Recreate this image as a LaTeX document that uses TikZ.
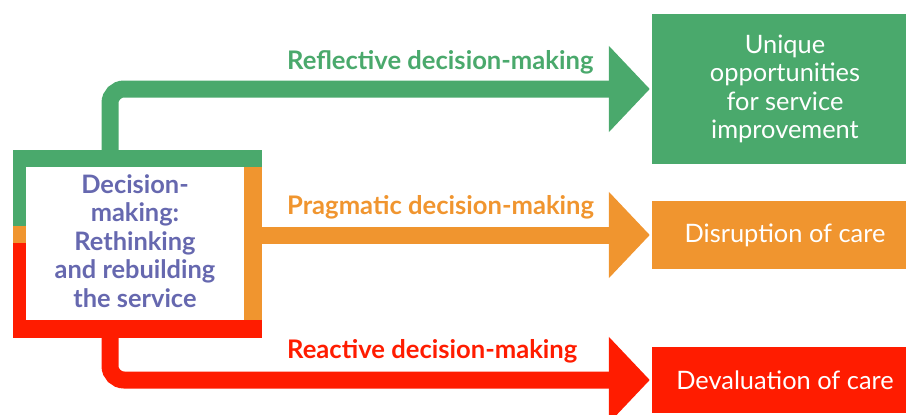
\documentclass[tikz,border=0pt]{standalone}
\usepackage{fontspec}
\setmainfont{Lato}
\usetikzlibrary{arrows.meta}
\definecolor{cgreen}{HTML}{4AA96C}
\definecolor{corange}{HTML}{F0952F}
\definecolor{cred}{HTML}{FF1C00}
\definecolor{cpurple}{HTML}{6668AF}
\begin{document}
\begin{tikzpicture}[x=1pt,y=-1pt,
  outbox/.style={rectangle,inner sep=0pt,minimum width=266pt,text=white,align=center,
    font=\fontsize{25.4}{28.5}\selectfont},
  lbl/.style={anchor=west,inner sep=0pt,font=\fontsize{25.6}{28}\selectfont\bfseries},
  conn/.style={line width=17pt,rounded corners=14pt,shorten >=2pt,
    -{Triangle[length=41pt,width=84pt]}}]
\useasboundingbox (0,0) rectangle (906,415);
% center box
\node[rectangle,inner sep=0pt,minimum width=249pt,minimum height=188pt] (c) at (137.5,244)
  {};
\fill[cgreen] (13,150) rectangle (262,167);
\fill[cgreen] (13,167) rectangle (26,226);
\fill[corange] (13,226) rectangle (26,243);
\fill[cred] (13,243) rectangle (26,338);
\fill[corange] (244,167) rectangle (262,320);
\fill[cred] (13,320) rectangle (262,338);
\node[text=cpurple,align=center,font=\fontsize{25.4}{28.5}\selectfont\bfseries] (ct) at (135,241)
  {Decision-\\making:\\Rethinking\\and rebuilding\\the service};
% outcome boxes
\node[outbox,fill=cgreen,minimum height=150pt] (u) at (785,89)
  {Unique\\opportunities\\for service\\improvement};
\node[outbox,fill=corange,minimum height=68pt] (o) at (785,235) {Disruption of care};
\node[outbox,fill=cred,minimum height=66pt] (r) at (785,380) {Devaluation of care};
% connectors
\coordinate (gs) at (110,150);
\coordinate (rs) at (110,338);
\draw[conn,cgreen] (gs) |- (u.west);
\draw[conn,corange] (c.east |- o.west) -- (o.west);
\draw[conn,cred] (rs) |- (r.west);
% labels
\node[lbl,text=cgreen] (l1) at (287,62) {Reflective decision-making};
\node[lbl,text=corange] (l2) at (287,207) {Pragmatic decision-making};
\node[lbl,text=cred] (l3) at (287,351) {Reactive decision-making};
\end{tikzpicture}
\end{document}
